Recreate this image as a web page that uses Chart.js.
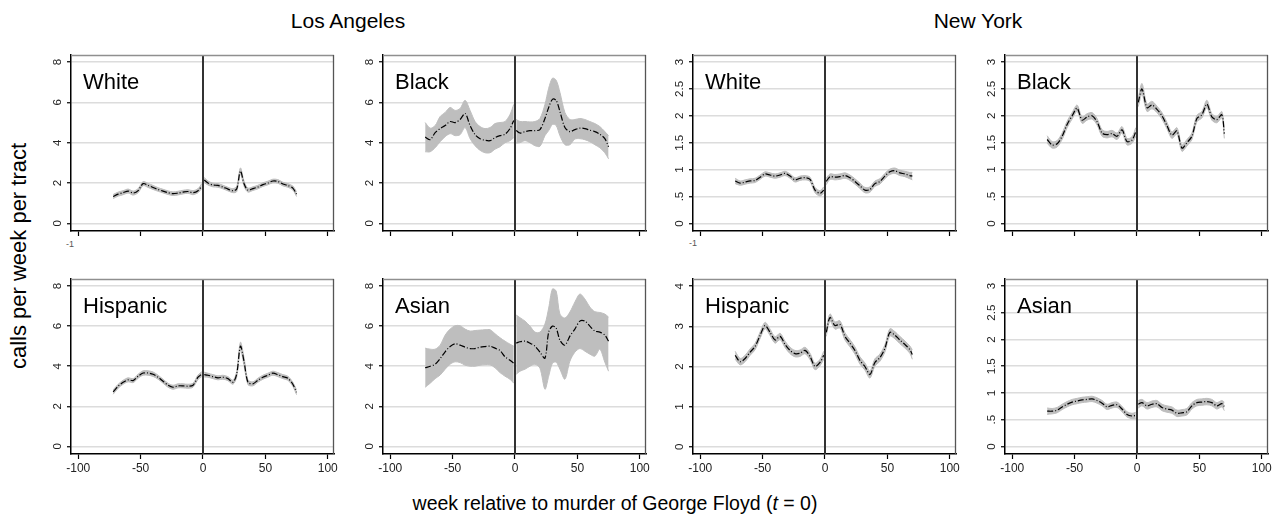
<!DOCTYPE html>
<html lang="en">
<head>
<meta charset="UTF-8">
<title>Calls per week per tract</title>
<script src="https://cdn.jsdelivr.net/npm/chart.js"></script>
<style>
  body { margin: 0; background: #fff; font-family: "Liberation Sans", Arial, sans-serif; }
  #wrap { position: relative; width: 1279px; height: 522px; overflow: hidden; background: #fff; }
  #wrap canvas { position: absolute; }
  .txt { position: absolute; color: #000; white-space: nowrap; }
  .city { top: 10px; font-size: 21px; line-height: 21px; transform: translateX(-50%); }
  .xtitle { left: 615px; top: 493px; font-size: 19.5px; line-height: 20px; transform: translateX(-50%); }
  .ytitle { left: 19px; top: 256px; font-size: 22px; line-height: 22px; transform: translate(-50%, -50%) rotate(-90deg); }
  .stray { font-size: 9px; line-height: 9px; color: #555; }
</style>
</head>
<body>
<div id="wrap">
  <div class="txt city" style="left:348px">Los Angeles</div>
  <div class="txt city" style="left:978px">New York</div>
  <div class="txt ytitle">calls per week per tract</div>
  <div class="txt xtitle">week relative to murder of George Floyd (<i>t</i> = 0)</div>
  <div class="txt stray" style="left:66px;top:240px">-1</div>
  <div class="txt stray" style="left:689px;top:239px">-1</div>
</div>
<script>
// weeks relative to t = 0 (null value at 0 splits pre / post)
const weeksLA = [-72,-68,-64,-60,-56,-52,-48,-44,-40,-36,-32,-28,-24,-20,-16,-12,-8,-4,-1,0,1,4,8,12,16,20,24,27,30,33,36,40,44,48,52,56,60,64,68,72,75];
const weeksNY = [-72,-68,-64,-60,-56,-52,-48,-44,-40,-36,-32,-28,-24,-20,-16,-12,-8,-4,-1,0,1,4,8,12,16,20,24,28,32,36,40,44,48,52,56,60,64,68,70];

const xTicks = [-100, -50, 0, 50, 100];
const laTicks = [0, 2, 4, 6, 8];
const laTickLabels = ['0', '2', '4', '6', '8'];
const nyTicks = [0, 0.5, 1, 1.5, 2, 2.5, 3];
const nyTickLabels = ['0', '.5', '1', '1.5', '2', '2.5', '3'];
const nyHispTicks = [0, 1, 2, 3, 4];
const nyHispTickLabels = ['0', '1', '2', '3', '4'];

// Los Angeles
const laWhiteEst = [1.33,1.45,1.52,1.6,1.5,1.62,1.97,1.88,1.78,1.68,1.6,1.52,1.47,1.5,1.55,1.58,1.52,1.62,1.85,null,2.15,2.0,1.9,1.88,1.8,1.7,1.62,1.7,2.6,1.95,1.65,1.72,1.8,1.92,2.0,2.1,2.08,1.95,1.88,1.75,1.45];
const laWhiteHi  = [1.43,1.55,1.62,1.7,1.6,1.72,2.07,1.98,1.88,1.77,1.69,1.61,1.56,1.59,1.64,1.67,1.62,1.72,1.97,null,2.27,2.1,1.99,1.97,1.89,1.79,1.72,1.83,2.75,2.08,1.75,1.81,1.89,2.01,2.09,2.19,2.17,2.04,1.97,1.85,1.57];
const laWhiteLo  = [1.23,1.35,1.42,1.5,1.4,1.52,1.87,1.78,1.68,1.59,1.51,1.43,1.38,1.41,1.46,1.49,1.42,1.52,1.73,null,2.03,1.9,1.81,1.79,1.71,1.61,1.52,1.57,2.45,1.82,1.55,1.63,1.71,1.83,1.91,2.01,1.99,1.86,1.79,1.65,1.33];

const laBlackEst = [4.28,4.15,4.5,4.7,4.85,5.05,5.0,5.15,5.45,4.85,4.4,4.2,4.12,4.1,4.25,4.35,4.42,4.7,5.1,null,4.6,4.48,4.55,4.6,4.6,4.65,5.2,5.75,6.15,6.1,5.55,4.75,4.55,4.65,4.72,4.7,4.62,4.55,4.42,4.2,3.8];
const laBlackHi  = [5.0,4.72,4.85,5.3,5.5,5.75,5.6,5.7,6.1,5.6,5.05,4.8,4.7,4.75,4.95,5.0,5.05,5.4,5.9,null,5.15,5.05,5.05,5.03,5.05,5.2,5.9,6.7,7.2,7.1,6.5,5.5,5.15,5.15,5.2,5.15,5.05,4.95,4.8,4.55,4.35];
const laBlackLo  = [3.55,3.55,3.75,4.05,4.3,4.45,4.35,4.4,4.75,4.2,3.85,3.62,3.5,3.5,3.68,3.8,4.0,4.1,4.25,null,3.98,4.0,4.1,4.0,3.85,3.82,4.35,4.6,4.9,4.85,4.35,3.9,3.9,4.18,4.2,4.15,4.05,3.9,3.75,3.5,3.2];

const laHispEst = [2.72,3.0,3.2,3.32,3.28,3.5,3.66,3.66,3.6,3.45,3.25,3.05,2.95,3.02,3.02,3.0,3.05,3.45,3.6,null,3.58,3.55,3.48,3.42,3.45,3.38,3.2,3.6,5.0,4.2,3.2,3.12,3.3,3.45,3.55,3.65,3.58,3.48,3.4,3.1,2.7];
const laHispHi  = [2.82,3.1,3.3,3.42,3.38,3.6,3.77,3.77,3.71,3.55,3.35,3.15,3.05,3.12,3.12,3.1,3.15,3.56,3.72,null,3.7,3.65,3.58,3.52,3.55,3.48,3.3,3.75,5.2,4.4,3.32,3.22,3.4,3.55,3.65,3.75,3.68,3.58,3.5,3.2,2.82];
const laHispLo  = [2.6,2.9,3.1,3.22,3.18,3.4,3.55,3.55,3.49,3.35,3.15,2.95,2.85,2.92,2.92,2.9,2.95,3.34,3.48,null,3.46,3.45,3.38,3.32,3.35,3.28,3.1,3.45,4.8,4.0,3.08,3.02,3.2,3.35,3.45,3.55,3.48,3.38,3.3,3.0,2.58];

const laAsianEst = [3.92,4.0,4.1,4.38,4.72,4.98,5.12,5.05,4.95,4.88,4.88,4.95,4.98,5.0,4.9,4.78,4.47,4.3,4.15,null,5.15,5.22,5.25,5.15,5.0,4.7,4.4,5.7,6.0,5.9,5.3,5.05,5.5,5.85,6.25,6.25,6.0,5.75,5.7,5.55,5.25];
const laAsianHi  = [4.9,4.85,4.85,5.05,5.55,5.85,6.02,6.02,5.85,5.75,5.78,5.8,5.82,5.82,5.62,5.42,5.25,5.1,5.0,null,6.55,6.42,6.25,6.0,5.7,5.7,6.1,6.9,7.85,7.75,6.6,6.4,6.7,7.2,7.6,7.35,6.95,6.72,6.68,6.6,6.45];
const laAsianLo  = [2.95,3.15,3.38,3.56,3.85,4.1,4.22,4.18,4.05,4.0,4.0,4.05,4.08,4.07,3.92,3.68,3.5,3.35,3.15,null,3.6,3.75,3.85,4.0,4.1,3.9,2.85,3.5,4.15,4.2,3.85,3.35,4.25,4.7,4.88,4.75,4.6,4.5,4.85,4.2,3.75];

// New York
const nyWhiteEst = [0.79,0.75,0.77,0.79,0.80,0.86,0.92,0.90,0.88,0.90,0.93,0.88,0.81,0.84,0.85,0.82,0.62,0.56,0.62,null,0.78,0.87,0.86,0.87,0.89,0.85,0.78,0.7,0.62,0.63,0.74,0.78,0.88,0.96,0.98,0.94,0.92,0.89,0.88];
const nyWhiteHi  = [0.84,0.79,0.81,0.83,0.84,0.9,0.96,0.94,0.92,0.94,0.97,0.92,0.85,0.88,0.89,0.86,0.67,0.61,0.68,null,0.84,0.92,0.91,0.92,0.94,0.9,0.83,0.75,0.67,0.68,0.79,0.83,0.93,1.01,1.03,0.99,0.97,0.95,0.95];
const nyWhiteLo  = [0.74,0.71,0.73,0.75,0.76,0.82,0.88,0.86,0.84,0.86,0.89,0.84,0.77,0.8,0.81,0.78,0.57,0.51,0.56,null,0.72,0.82,0.81,0.82,0.84,0.8,0.73,0.65,0.57,0.58,0.69,0.73,0.83,0.91,0.93,0.89,0.87,0.83,0.81];

const nyBlackEst = [1.56,1.46,1.48,1.62,1.84,2.0,2.14,1.92,1.98,2.0,1.89,1.68,1.65,1.67,1.62,1.74,1.52,1.55,1.7,null,2.25,2.5,2.15,2.2,2.12,2.0,1.82,1.64,1.72,1.4,1.5,1.62,1.95,2.02,2.22,1.98,1.93,2.02,1.67];
const nyBlackHi  = [1.63,1.52,1.54,1.68,1.9,2.06,2.2,1.98,2.04,2.06,1.95,1.74,1.71,1.73,1.68,1.8,1.58,1.61,1.78,null,2.33,2.6,2.22,2.27,2.18,2.06,1.88,1.7,1.78,1.46,1.56,1.68,2.01,2.08,2.29,2.04,1.99,2.08,1.76];
const nyBlackLo  = [1.49,1.4,1.42,1.56,1.78,1.94,2.08,1.86,1.92,1.94,1.83,1.62,1.59,1.61,1.56,1.68,1.46,1.49,1.62,null,2.17,2.4,2.08,2.13,2.06,1.94,1.76,1.58,1.66,1.34,1.44,1.56,1.89,1.96,2.15,1.92,1.87,1.96,1.58];

const nyHispEst = [2.28,2.12,2.2,2.36,2.5,2.78,3.02,2.85,2.66,2.75,2.55,2.4,2.32,2.33,2.4,2.25,2.0,2.1,2.28,null,2.85,3.22,3.02,3.05,2.75,2.58,2.4,2.15,2.0,1.8,2.1,2.22,2.45,2.85,2.78,2.66,2.55,2.42,2.3];
const nyHispHi  = [2.38,2.2,2.28,2.44,2.58,2.86,3.1,2.93,2.74,2.83,2.63,2.48,2.4,2.41,2.48,2.33,2.08,2.18,2.38,null,2.95,3.31,3.11,3.14,2.84,2.67,2.49,2.24,2.09,1.89,2.19,2.31,2.54,2.94,2.87,2.75,2.64,2.51,2.42];
const nyHispLo  = [2.18,2.04,2.12,2.28,2.42,2.7,2.94,2.77,2.58,2.67,2.47,2.32,2.24,2.25,2.32,2.17,1.92,2.02,2.18,null,2.75,3.13,2.93,2.96,2.66,2.49,2.31,2.06,1.91,1.71,2.01,2.13,2.36,2.76,2.69,2.57,2.46,2.33,2.18];

const nyAsianEst = [0.66,0.66,0.68,0.74,0.79,0.83,0.85,0.87,0.88,0.89,0.86,0.81,0.74,0.77,0.78,0.7,0.6,0.57,0.58,null,0.79,0.82,0.76,0.79,0.8,0.73,0.7,0.68,0.62,0.63,0.65,0.76,0.82,0.83,0.84,0.82,0.76,0.8,0.75];
const nyAsianHi  = [0.72,0.71,0.73,0.79,0.84,0.88,0.9,0.92,0.93,0.94,0.91,0.86,0.79,0.82,0.83,0.75,0.65,0.62,0.64,null,0.86,0.88,0.82,0.85,0.86,0.79,0.76,0.74,0.68,0.69,0.71,0.82,0.88,0.89,0.9,0.88,0.82,0.86,0.83];
const nyAsianLo  = [0.6,0.61,0.63,0.69,0.74,0.78,0.8,0.82,0.83,0.84,0.81,0.76,0.69,0.72,0.73,0.65,0.55,0.52,0.52,null,0.72,0.76,0.7,0.73,0.74,0.67,0.64,0.62,0.56,0.57,0.59,0.7,0.76,0.77,0.78,0.76,0.7,0.74,0.67];

const FONT = '"Liberation Sans", Arial, sans-serif';
Chart.defaults.font.family = FONT;

// plot area of each panel: left/top in page px, all 263 wide
const colLeft = [71, 383, 693, 1005];
const rowTop = [55, 279];
const rowH = [176, 175];

const panels = [
  {name: 'White',    weeks: weeksLA, est: laWhiteEst, hi: laWhiteHi, lo: laWhiteLo, ticks: laTicks, labels: laTickLabels, ymin: -0.38, ymax: 8.35, col: 0, row: 0},
  {name: 'Black',    weeks: weeksLA, est: laBlackEst, hi: laBlackHi, lo: laBlackLo, ticks: laTicks, labels: laTickLabels, ymin: -0.38, ymax: 8.35, col: 1, row: 0},
  {name: 'White',    weeks: weeksNY, est: nyWhiteEst, hi: nyWhiteHi, lo: nyWhiteLo, ticks: nyTicks, labels: nyTickLabels, ymin: -0.14, ymax: 3.13, col: 2, row: 0},
  {name: 'Black',    weeks: weeksNY, est: nyBlackEst, hi: nyBlackHi, lo: nyBlackLo, ticks: nyTicks, labels: nyTickLabels, ymin: -0.14, ymax: 3.13, col: 3, row: 0},
  {name: 'Hispanic', weeks: weeksLA, est: laHispEst, hi: laHispHi, lo: laHispLo, ticks: laTicks, labels: laTickLabels, ymin: -0.38, ymax: 8.35, col: 0, row: 1},
  {name: 'Asian',    weeks: weeksLA, est: laAsianEst, hi: laAsianHi, lo: laAsianLo, ticks: laTicks, labels: laTickLabels, ymin: -0.38, ymax: 8.35, col: 1, row: 1},
  {name: 'Hispanic', weeks: weeksNY, est: nyHispEst, hi: nyHispHi, lo: nyHispLo, ticks: nyHispTicks, labels: nyHispTickLabels, ymin: -0.18, ymax: 4.18, col: 2, row: 1},
  {name: 'Asian',    weeks: weeksNY, est: nyAsianEst, hi: nyAsianHi, lo: nyAsianLo, ticks: nyTicks, labels: nyTickLabels, ymin: -0.14, ymax: 3.13, col: 3, row: 1}
];

function pts(weeks, vals) {
  return weeks.map((w, i) => ({x: w, y: vals[i]}));
}

// zero line, frame, panel name and rotated y labels (Stata style)
const panelDecor = {
  id: 'panelDecor',
  afterDatasetsDraw(chart) {
    const p = chart.options.plugins.panelDecor;
    const ctx = chart.ctx, a = chart.chartArea;
    const xs = chart.scales.x, ys = chart.scales.y;
    ctx.save();
    const x0 = xs.getPixelForValue(0);
    ctx.strokeStyle = '#333';
    ctx.lineWidth = 2;
    ctx.beginPath(); ctx.moveTo(x0, a.top); ctx.lineTo(x0, a.bottom); ctx.stroke();

    ctx.lineWidth = 1.3;
    ctx.strokeStyle = '#8f8f8f';
    ctx.beginPath(); ctx.moveTo(a.left, a.top + 0.5); ctx.lineTo(a.right, a.top + 0.5); ctx.stroke();
    ctx.strokeStyle = '#555';
    ctx.beginPath(); ctx.moveTo(a.right - 0.5, a.top); ctx.lineTo(a.right - 0.5, a.bottom); ctx.stroke();

    ctx.fillStyle = '#000';
    ctx.font = '22px ' + FONT;
    ctx.textAlign = 'left';
    ctx.textBaseline = 'alphabetic';
    ctx.fillText(p.name, a.left + 12, a.top + 34);

    ctx.font = '11.5px ' + FONT;
    ctx.fillStyle = '#222';
    ctx.textAlign = 'center';
    ctx.textBaseline = 'middle';
    ys.ticks.forEach((t, i) => {
      const py = ys.getPixelForValue(t.value);
      ctx.save();
      ctx.translate(a.left - 13, py);
      ctx.rotate(-Math.PI / 2);
      ctx.fillText(p.labels[i], 0, 0);
      ctx.restore();
    });
    ctx.restore();
  }
};

const wrap = document.getElementById('wrap');
const padL = 50, padT = 6, padR = 16, axisH = 30, plotW = 263;

panels.forEach(p => {
  const cv = document.createElement('canvas');
  const h = padT + rowH[p.row] + axisH;
  const w = padL + plotW + padR;
  cv.width = w; cv.height = h;
  cv.style.left = (colLeft[p.col] - padL) + 'px';
  cv.style.top = (rowTop[p.row] - padT) + 'px';
  cv.style.width = w + 'px'; cv.style.height = h + 'px';
  wrap.appendChild(cv);

  new Chart(cv.getContext('2d'), {
    type: 'line',
    data: {
      datasets: [
        {data: pts(p.weeks, p.est), borderColor: '#000', borderWidth: 1.2, borderDash: [6, 2, 1, 2],
         pointRadius: 0, fill: false, tension: 0.3, spanGaps: false},
        {data: pts(p.weeks, p.hi), borderColor: '#bebebe', borderWidth: 1, pointRadius: 0,
         fill: false, tension: 0.3, spanGaps: false},
        {data: pts(p.weeks, p.lo), borderColor: '#bebebe', borderWidth: 1, pointRadius: 0,
         fill: '-1', backgroundColor: '#bebebe', tension: 0.3, spanGaps: false}
      ]
    },
    options: {
      responsive: false,
      animation: false,
      devicePixelRatio: 1,
      events: [],
      layout: {padding: {left: 0, top: padT, right: padR, bottom: 0}},
      plugins: {
        legend: {display: false},
        tooltip: {enabled: false},
        panelDecor: {name: p.name, labels: p.labels}
      },
      scales: {
        x: {
          type: 'linear', min: -105.8, max: 105,
          afterBuildTicks: s => { s.ticks = xTicks.map(v => ({value: v})); },
          afterFit: s => { s.height = axisH; },
          grid: {drawOnChartArea: false, drawTicks: true, tickLength: 5, tickColor: '#000', tickWidth: 1.2},
          border: {color: '#000', width: 1.5},
          ticks: {display: p.row === 1, color: '#222', font: {size: 12}, padding: 2, maxRotation: 0, autoSkip: false}
        },
        y: {
          type: 'linear', min: p.ymin, max: p.ymax,
          afterBuildTicks: s => { s.ticks = p.ticks.map(v => ({value: v})); },
          afterFit: s => { s.width = padL; },
          grid: {color: '#dcdcdc', lineWidth: 1.5, tickLength: 4, tickColor: '#000', tickWidth: 1.2},
          border: {color: '#000', width: 1.5},
          ticks: {display: false}
        }
      }
    },
    plugins: [panelDecor]
  });
});
</script>
</body>
</html>
